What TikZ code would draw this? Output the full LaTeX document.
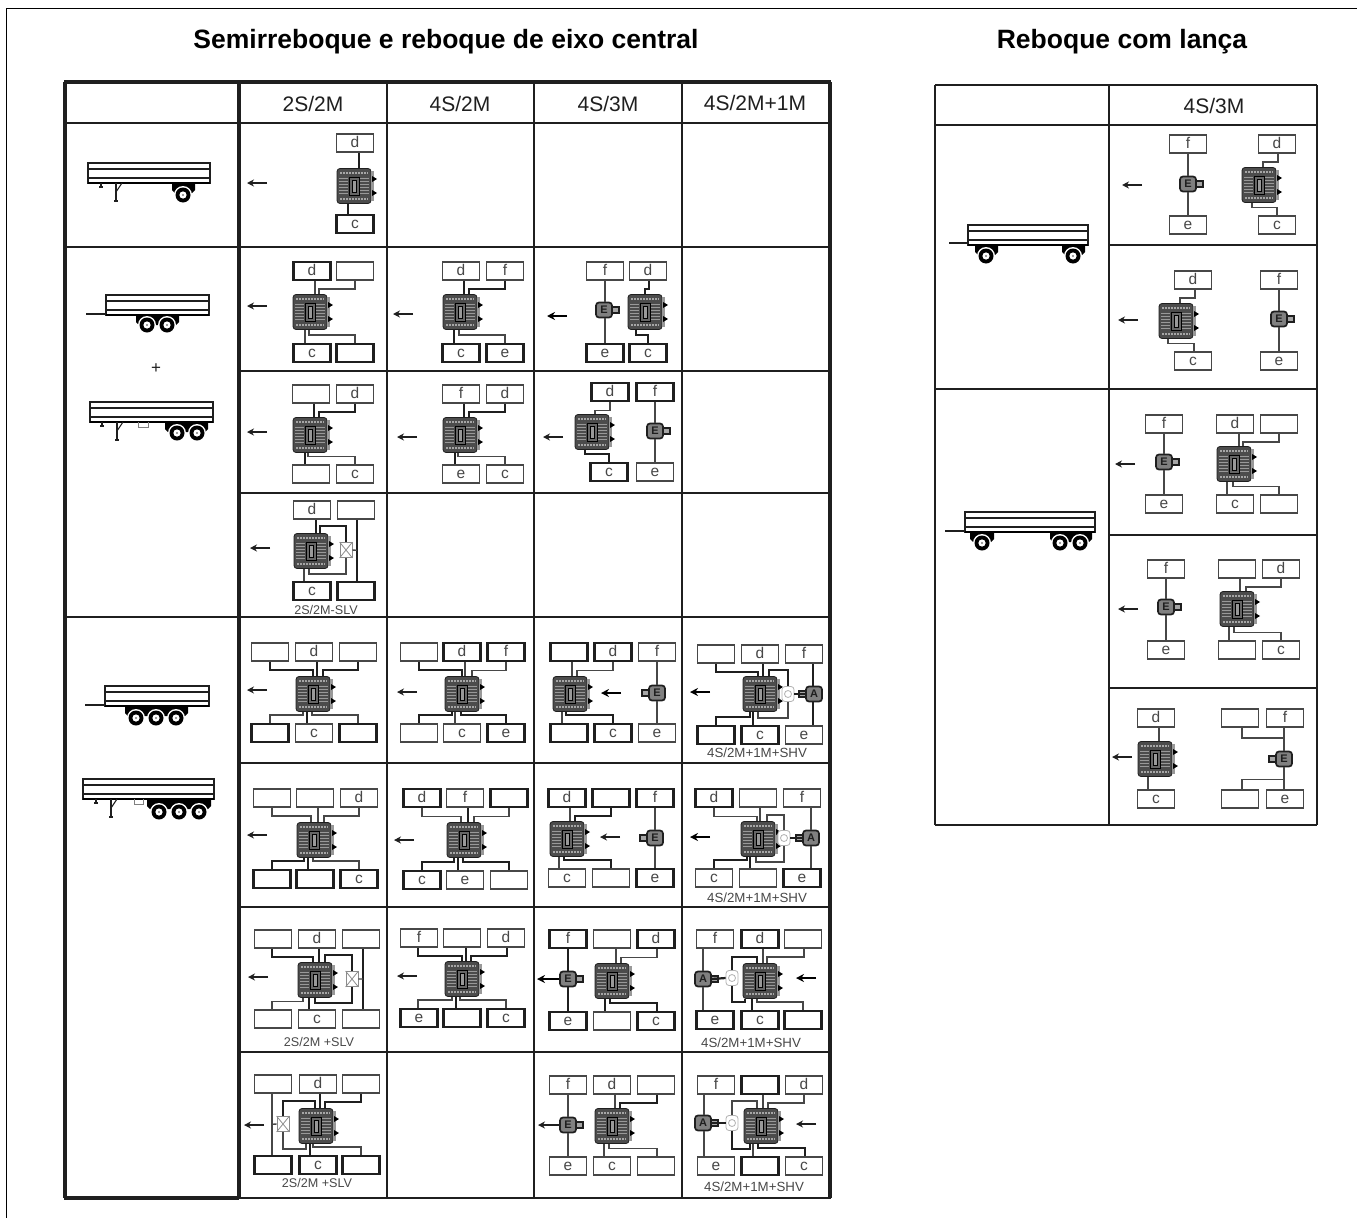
\documentclass[tikz,border=0pt]{standalone}
\usepackage{fontspec}
\setmainfont{Liberation Sans}
\usetikzlibrary{calc,arrows.meta}
\definecolor{ink}{gray}{0.12}
\definecolor{txt}{gray}{0.28}
\tikzset{
  x=1pt,y=-1pt,
  grid/.style={draw=ink,line width=2.4pt},
  gridth/.style={draw=ink,line width=3.2pt},
  bx/.style={draw=txt,line width=1.6pt,fill=white,minimum width=37pt,minimum height=18pt,inner sep=0pt,text=txt,font=\fontsize{15.5}{15}\selectfont,text height=8pt,text depth=0pt},
  bxt/.style={bx,draw=ink,line width=2.4pt},
  wire/.style={draw=txt,line width=1.4pt},
  wth/.style={draw=ink,line width=2.2pt},
  ecubody/.style={draw=ink,fill=black!70,line width=.8pt,rounded corners=3pt,minimum width=34pt,minimum height=35pt,inner sep=0pt},
  unitbody/.style={draw=ink,fill=black!50,line width=1.7pt,rounded corners=3pt,minimum width=16pt,minimum height=15pt,inner sep=0pt,font=\fontsize{11}{11}\bfseries\selectfont,text=ink},
  valvebody/.style={draw=black!45,fill=white,line width=.8pt,minimum width=12pt,minimum height=15pt,inner sep=0pt},
  arrowln/.style={draw=ink,line width=1.5pt,-{Stealth[length=7pt,width=7pt]}},
  arrowth/.style={draw=black,line width=2.3pt,-{Stealth[length=8pt,width=8pt]}},
  hdr/.style={font=\fontsize{21}{21}\selectfont,text=ink,inner sep=0pt},
  ttl/.style={font=\fontsize{26.5}{26.5}\bfseries\selectfont,text=black,inner sep=0pt},
  sublab/.style={font=\fontsize{12.6}{13}\selectfont,text=txt,inner sep=0pt},
  deckln/.style={draw=ink,line width=1.6pt},
}
\newcommand\Bx[5][bx]{\node[#1] (#2) at (#3,#4) {#5};}
\newcommand\Ecu[3]{%
  \node[ecubody] (#1) at (#2,#3) {};
  \begin{scope}[shift={(#2,#3)}]
    \fill[black!40] (17,-15) rectangle (19.5,15);
    \foreach \yy in {-8,-5,-2,1,4,7}{\draw[black!40,line width=.6pt] (-15,\yy) -- (-6,\yy) (6,\yy) -- (15,\yy);}
    \draw[black!35,line width=1.4pt,dash pattern=on 1.5pt off 1.5pt] (-14,-13) -- (14,-13) (-14,13) -- (14,13);
    \draw[draw=black,fill=black!60,line width=.8pt] (-5,-9) rectangle (5,9);
    \draw[draw=black,fill=black!40,line width=.6pt] (-2,-6) rectangle (2,6);
    \fill[black] (18,-10) -- (23,-7) -- (18,-4) -- cycle;
    \fill[black] (18,4) -- (23,7) -- (18,10) -- cycle;
  \end{scope}}
% name x y label direction(+1 right, -1 left)
\newcommand\Unit[5]{%
  \begin{scope}[shift={(#2,#3)}]
    \draw[draw=ink,fill=black!35,line width=1.4pt] ({#5*8},-3) rectangle ({#5*15},3);
  \end{scope}
  \node[unitbody] (#1) at (#2,#3) {#4};}
\newcommand\ValveX[3]{%
  \node[valvebody] (#1) at (#2,#3) {};
  \draw[black!45,line width=.8pt] (#1.north west) -- (#1.south east) (#1.south west) -- (#1.north east);}
\newcommand\Gear[3]{%
  \node[valvebody,rounded corners=3pt,draw=black!30] (#1) at (#2,#3) {};
  \draw[black!30,line width=.8pt] (#2,#3) circle[radius=3.5];}
\newcommand\Wt[5][wire]{\draw[#1] ($(#2.south)+(#3,0)$) -- ++(0,8) -| ($(#4.north)+(#5,0)$);}
\newcommand\Wb[5][wire]{\draw[#1] ($(#2.north)+(#3,0)$) -- ++(0,-8) -| ($(#4.south)+(#5,0)$);}
\newcommand\Wv[4][wire]{\draw[#1] ($(#2.south)+(#3,0)$) coordinate (wtmp) -- (wtmp |- #4.north);}
\newcommand\Wu[4][wire]{\draw[#1] ($(#2.north)+(#3,0)$) coordinate (wtmp) -- (wtmp |- #4.south);}
\newcommand\Vt[5][wire]{\draw[#1] ($(#2.north)+(#3,0)$) -- ++(0,-#4) -| (#5.north);}
\newcommand\Vb[5][wire]{\draw[#1] ($(#2.south)+(#3,0)$) -- ++(0,#4) -| (#5.south);}
\newcommand\myarr[3][arrowln]{\coordinate (ar1) at ({#2+10},#3); \coordinate (ar2) at ({#2-10},#3); \draw[#1] (ar1) -- (ar2);}
% trailers
\newcommand\Deck[3]{%
  \draw[deckln,fill=white] (#1,#3) rectangle (#2,{#3+20});
  \draw[deckln] (#1,{#3+6}) -- (#2,{#3+6}) (#1,{#3+15}) -- (#2,{#3+15});
  \draw[draw=black,line width=2.2pt] (#1,{#3+20}) -- (#2,{#3+20});}
\newcommand\Fender[3]{\fill[black] (#1,#3) -- (#2,#3) -- (#2,{#3+7}) -- ({#2-3},{#3+10}) -- ({#1+3},{#3+10}) -- (#1,{#3+7}) -- cycle;}
\newcommand\Wheel[2]{%
  \fill[white] (#1,#2) circle[radius=9];
  \fill[black] (#1,#2) circle[radius=7.5];
  \fill[white] (#1,#2) circle[radius=3.6];
  \fill[black!50] (#1,#2) circle[radius=1.2];}
\newcommand\Leg[2]{%
  \draw[draw=ink,line width=1.6pt] (#1,#2) -- (#1,{#2+18}) ({#1-2},{#2+18}) -- ({#1+2},{#2+18});
  \draw[draw=ink,line width=1.1pt] (#1,{#2+9}) -- ({#1+6},#2);
  \draw[draw=ink,line width=1.4pt] ({#1-15},#2) -- ({#1-15},{#2+4});
  \fill[ink] ({#1-17},{#2+3}) rectangle ({#1-13},{#2+5});}
\newcommand\Stow[3]{\draw[draw=black!50,line width=1pt] (#1,#3) -- (#1,{#3+5}) -- (#2,{#3+5}) -- (#2,#3);}
\begin{document}
\begin{tikzpicture}
\useasboundingbox (0,0) rectangle (1357,1218);
\draw[black,line width=1pt] (1357,8) -- (6,8) -- (6,1218);
% titles
\node[ttl] (t1) at (446,42) {Semirreboque e reboque de eixo central};
\node[ttl] (t2) at (1122,42) {Reboque com lança};
% main table grid
\foreach \yy in {123,247,617}{\draw[grid] (65,\yy) -- (830,\yy);}
\foreach \yy in {371,493,763,907,1052}{\draw[grid] (239,\yy) -- (830,\yy);}
\foreach \xx in {387,534,682}{\draw[grid] (\xx,82) -- (\xx,1198);}
\draw[gridth] (239,82) -- (239,1198);
\draw[gridth] (830,82) -- (830,1198);
\draw[gridth] (65,82) -- (65,1198);
\draw[gridth] (64,82) -- (831,82);
\draw[grid] (239,1198) -- (831,1198);
\draw[draw=ink,line width=3.5pt] (64,1198) -- (239,1198);
\node[hdr] (h1) at (313,104) {2S/2M};
\node[hdr] (h2) at (460,104) {4S/2M};
\node[hdr] (h3) at (608,104) {4S/3M};
\node[hdr] (h4) at (755,103) {4S/2M+1M};
% right table grid
\foreach \xx in {935,1109,1317}{\draw[grid] (\xx,85) -- (\xx,825);}
\foreach \yy in {85,125,389,825}{\draw[grid] (935,\yy) -- (1317,\yy);}
\foreach \yy in {245,535,688}{\draw[grid] (1109,\yy) -- (1317,\yy);}
\node[hdr] (h5) at (1214,106) {4S/3M};
% trailers
\Deck{88}{210}{163}\Leg{116}{183}\Fender{172}{195}{183}\Wheel{183}{195}
\Deck{106}{209}{295}\draw[deckln] (86,314) -- (106,314);\Fender{136}{179}{315}\Wheel{147}{325}\Wheel{167}{325}
\node[inner sep=0pt,text=ink,font=\fontsize{17}{17}\selectfont] (plus) at (156,369) {+};
\Deck{90}{213}{402}\Leg{117}{422}\Stow{138}{148}{422}\Fender{165}{208}{422}\Wheel{177}{433}\Wheel{197}{433}
\Deck{105}{209}{686}\draw[deckln] (85,705) -- (105,705);\Fender{125}{188}{706}\Wheel{136}{718}\Wheel{156}{718}\Wheel{176}{718}
\Deck{83}{214}{779}\Leg{111}{799}\Stow{134}{143}{799}\Fender{147}{211}{799}\Wheel{159}{812}\Wheel{179}{812}\Wheel{199}{812}
\Deck{968}{1088}{225}\draw[deckln] (949,243) -- (968,243);\Fender{975}{998}{245}\Fender{1062}{1085}{245}\Wheel{986}{256}\Wheel{1073}{256}
\Deck{965}{1095}{512}\draw[deckln] (945,531) -- (965,531);\Fender{970}{994}{532}\Fender{1050}{1092}{532}\Wheel{982}{543}\Wheel{1060}{543}\Wheel{1080}{543}
% ---- row 1
\begin{scope}[name prefix=a-]
\Bx{d}{355}{143}{d}\Bx[bxt]{c}{355}{224}{c}\Ecu{m}{354}{186}
\Wv[wth]{d}{4}{m}\Wu[wth]{c}{-7}{m}\myarr{257}{183}
\end{scope}
% ---- row 2
\begin{scope}[name prefix=b-]
\Bx[bxt]{d}{312}{271}{d}\Bx{r}{355}{271}{}\Bx[bxt]{c}{312}{353}{c}\Bx[bxt]{s}{355}{353}{}\Ecu{m}{310}{312}
\Wv{d}{3}{m}\Wt{r}{0}{m}{9}\Wu{c}{-7}{m}\Wb{s}{0}{m}{-1}\myarr{257}{306}
\end{scope}
\begin{scope}[name prefix=c-]
\Bx{d}{461}{271}{d}\Bx{f}{505}{271}{f}\Bx[bxt]{c}{461}{353}{c}\Bx[bxt]{e}{505}{353}{e}\Ecu{m}{460}{312}
\Wv[wth]{d}{3}{m}\Wt[wth]{f}{0}{m}{9}\Wu[wth]{c}{-7}{m}\Wb{e}{0}{m}{-1}\myarr{403}{314}
\end{scope}
\begin{scope}[name prefix=d-]
\Bx{f}{605}{271}{f}\Bx{d}{648}{271}{d}\Bx[bxt]{e}{605}{353}{e}\Bx[bxt]{c}{648}{353}{c}\Ecu{m}{645}{312}\Unit{u}{604}{310}{E}{1}
\Wv{f}{0}{u}\Wu{e}{0}{u}\Wt[wth]{d}{1}{m}{0}\Wb[wth]{c}{0}{m}{-9}\myarr[arrowth]{557}{316}
\end{scope}
% ---- row 3
\begin{scope}[name prefix=e-]
\Bx{p}{311}{394}{}\Bx{d}{355}{394}{d}\Bx{q}{311}{474}{}\Bx{c}{355}{474}{c}\Ecu{m}{310}{435}
\Wv[wth]{p}{3}{m}\Wt[wth]{d}{0}{m}{9}\Wu[wth]{q}{-6}{m}\Wb{c}{0}{m}{-2}\myarr{257}{432}
\end{scope}
\begin{scope}[name prefix=f-]
\Bx{f}{461}{394}{f}\Bx{d}{505}{394}{d}\Bx{e}{461}{474}{e}\Bx{c}{505}{474}{c}\Ecu{m}{460}{435}
\Wv[wth]{f}{3}{m}\Wt[wth]{d}{0}{m}{9}\Wu[wth]{e}{-6}{m}\Wb{c}{0}{m}{-2}\myarr{407}{437}
\end{scope}
\begin{scope}[name prefix=g-]
\Bx[bxt]{d}{610}{392}{d}\Bx[bxt]{f}{655}{392}{f}\Bx[bxt]{c}{609}{472}{c}\Bx{e}{655}{472}{e}\Ecu{m}{592}{432}\Unit{u}{655}{431}{E}{1}
\Wv{f}{0}{u}\Wu{e}{0}{u}\Wt{d}{0}{m}{3}\Wb[wth]{c}{0}{m}{-7}\myarr{553}{437}
\end{scope}
% ---- row 4
\begin{scope}[name prefix=h-]
\Bx{d}{312}{510}{d}\Bx{r}{356}{510}{}\Bx[bxt]{c}{312}{591}{c}\Bx[bxt]{s}{356}{591}{}\Ecu{m}{311}{551}\ValveX{v}{346}{550}
\Wv[wth]{d}{4}{m}\Wu{c}{-8}{m}\Vt[wth]{m}{9}{7}{v}\Vb{m}{-2}{5}{v}
\draw[wth] ($(r.south)+(1,0)$) -- ($(s.north)+(1,0)$);
\coordinate (j) at ($(r.south)!0.5!(s.north)+(1,0)$);\draw[wire] (v.east) -- (j);
\myarr{260}{548}\node[sublab] (l) at (326,610) {2S/2M-SLV};
\end{scope}
% ---- row 5
\begin{scope}[name prefix=i-]
\Bx{a}{270}{652}{}\Bx{b}{314}{652}{d}\Bx{x}{358}{652}{}\Bx[bxt]{p}{270}{733}{}\Bx{q}{314}{733}{c}\Bx[bxt]{r}{358}{733}{}\Ecu{m}{313}{694}
\Wt[wth]{a}{0}{m}{0}\Wv[wth]{b}{3}{m}\Wt[wth]{x}{0}{m}{10}\Wb{p}{0}{m}{-10}\Wu[wth]{q}{-7}{m}\Wb{r}{0}{m}{-1}\myarr{257}{690}
\end{scope}
\begin{scope}[name prefix=j-]
\Bx{a}{419}{652}{}\Bx[bxt]{b}{462}{652}{d}\Bx[bxt]{x}{506}{652}{f}\Bx{p}{419}{733}{}\Bx{q}{462}{733}{c}\Bx[bxt]{r}{506}{733}{e}\Ecu{m}{462}{694}
\Wt[wth]{a}{0}{m}{0}\Wv{b}{3}{m}\Wt{x}{0}{m}{10}\Wb[wth]{p}{0}{m}{-10}\Wu{q}{-7}{m}\Wb[wth]{r}{0}{m}{-1}\myarr{407}{692}
\end{scope}
\begin{scope}[name prefix=k-]
\Bx[bxt]{a}{569}{652}{}\Bx[bxt]{b}{613}{652}{d}\Bx{x}{657}{652}{f}\Bx[bxt]{p}{569}{733}{}\Bx[bxt]{q}{613}{733}{c}\Bx{r}{657}{733}{e}\Ecu{m}{570}{694}\Unit{u}{657}{693}{E}{-1}
\Wv{a}{3}{m}\Wt{b}{0}{m}{7}\Wu{p}{-7}{m}\Wb[wth]{q}{0}{m}{-4}\Wv{x}{0}{u}\Wu{r}{0}{u}\myarr[arrowth]{611}{693}
\end{scope}
\begin{scope}[name prefix=l-]
\Bx{a}{716}{654}{}\Bx{b}{760}{654}{d}\Bx{x}{804}{654}{f}\Bx[bxt]{p}{716}{735}{}\Bx[bxt]{q}{760}{735}{c}\Bx{r}{804}{735}{e}\Ecu{m}{760}{694}\Gear{v}{788}{694}\Unit{u}{814}{694}{A}{-1}
\Wt[wth]{a}{0}{m}{-2}\Wv[wth]{b}{3}{m}\Vt[wth]{m}{9}{6}{v}\Wb[wth]{p}{0}{m}{-10}\Wu[wth]{q}{-7}{m}\Vb{m}{-2}{6}{v}\Wv[wth]{x}{9}{u}\Wu[wth]{r}{9}{u}\draw[wth] (v.east) -- (u.west);\myarr[arrowth]{700}{692}\node[sublab,font=\fontsize{13.3}{13}\selectfont] (n) at (757,753) {4S/2M+1M+SHV};
\end{scope}
% ---- row 6
\begin{scope}[name prefix=o-]
\Bx{a}{272}{798}{}\Bx{b}{315}{798}{}\Bx{x}{359}{798}{d}\Bx[bxt]{p}{272}{879}{}\Bx[bxt]{q}{315}{879}{}\Bx[bxt]{r}{359}{879}{c}\Ecu{m}{314}{840}
\Wt{a}{0}{m}{-3}\Wv{b}{3}{m}\Wt{x}{0}{m}{10}\Wb[wth]{p}{0}{m}{-10}\Wu[wth]{q}{-7}{m}\Wb{r}{0}{m}{-1}\myarr{257}{835}
\end{scope}
\begin{scope}[name prefix=s-]
\Bx[bxt]{a}{422}{798}{d}\Bx{b}{465}{798}{f}\Bx[bxt]{x}{509}{798}{}\Bx[bxt]{p}{422}{880}{c}\Bx{q}{465}{880}{e}\Bx{r}{509}{880}{}\Ecu{m}{464}{840}
\Wt{a}{0}{m}{-3}\Wv[wth]{b}{3}{m}\Wt{x}{0}{m}{10}\Wb[wth]{p}{0}{m}{-10}\Wu[wth]{q}{-7}{m}\Wb[wth]{r}{0}{m}{-1}\myarr{404}{840}
\end{scope}
\begin{scope}[name prefix=u-]
\Bx[bxt]{a}{567}{798}{d}\Bx[bxt]{b}{611}{798}{}\Bx[bxt]{x}{655}{798}{f}\Bx{p}{567}{878}{c}\Bx{q}{611}{878}{}\Bx[bxt]{r}{655}{878}{e}\Ecu{m}{567}{839}\Unit{w}{655}{838}{E}{-1}
\Wv{a}{3}{m}\Wt[wth]{b}{0}{m}{8}\Wu{p}{-8}{m}\Wb[wth]{q}{0}{m}{-3}\Wv{x}{0}{w}\Wu{r}{0}{w}\myarr{610}{837}
\end{scope}
\begin{scope}[name prefix=w-]
\Bx[bxt]{a}{714}{798}{d}\Bx{b}{758}{798}{}\Bx{x}{802}{798}{f}\Bx{p}{714}{878}{c}\Bx{q}{758}{878}{}\Bx[bxt]{r}{802}{878}{e}\Ecu{m}{758}{839}\Gear{v}{784}{838}\Unit{u}{811}{838}{A}{-1}
\Wt{a}{0}{m}{-1}\Wv{b}{2}{m}\Vt{m}{9}{6}{v}\Wb[wth]{p}{0}{m}{-11}\Wu[wth]{q}{-8}{m}\Vb{m}{-2}{5}{v}\Wv{x}{9}{u}\Wu{r}{9}{u}\draw[wth] (v.east) -- (u.west);\myarr[arrowth]{700}{837}\node[sublab,font=\fontsize{13.3}{13}\selectfont] (n) at (757,898) {4S/2M+1M+SHV};
\end{scope}
% ---- row 7
\begin{scope}[name prefix=m1-]
\Bx{a}{273}{939}{}\Bx{b}{317}{939}{d}\Bx{x}{361}{939}{}\Bx{p}{273}{1019}{}\Bx{q}{317}{1019}{c}\Bx{r}{361}{1019}{}\Ecu{m}{315}{980}\ValveX{v}{352}{979}
\Wt[wth]{a}{-1}{m}{-2}\Wv[wth]{b}{2}{m}\Vt[wth]{m}{10}{7}{v}\Wb{p}{-1}{m}{-12}\Wu[wth]{q}{-8}{m}\Vb[wth]{m}{0}{5}{v}
\draw[wth] ($(x.south)+(2,0)$) -- ($(r.north)+(2,0)$);\coordinate (j) at ($(x.south)!0.5!(r.north)+(2,0)$);\draw[wire] (v.east) -- (j);
\myarr{258}{977}\node[sublab] (l) at (319,1042) {2S/2M +SLV};
\end{scope}
\begin{scope}[name prefix=m2-]
\Bx{a}{419}{938}{f}\Bx{b}{462}{938}{}\Bx{x}{506}{938}{d}\Bx[bxt]{p}{419}{1018}{e}\Bx[bxt]{q}{462}{1018}{}\Bx[bxt]{r}{506}{1018}{c}\Ecu{m}{462}{979}
\Wt[wth]{a}{-1}{m}{0}\Wv[wth]{b}{4}{m}\Wt[wth]{x}{1}{m}{9}\Wb{p}{-1}{m}{-10}\Wu[wth]{q}{-6}{m}\Wb{r}{0}{m}{-2}\myarr{407}{976}
\end{scope}
\begin{scope}[name prefix=m3-]
\Bx[bxt]{f}{568}{939}{f}\Bx{b}{612}{939}{}\Bx[bxt]{d}{656}{939}{d}\Bx[bxt]{e}{568}{1021}{e}\Bx{q}{612}{1021}{}\Bx[bxt]{c}{656}{1021}{c}\Ecu{m}{612}{981}\Unit{u}{568}{979}{E}{1}
\Wv[wth]{f}{0}{u}\Wu[wth]{e}{0}{u}\Wv{b}{4}{m}\Wt{d}{1}{m}{9}\Wu[wth]{q}{-7}{m}\Wb[wth]{c}{1}{m}{-2}
\coordinate (tip) at (537,979);\draw[arrowth] (u.west) -- (tip);
\end{scope}
\begin{scope}[name prefix=m4-]
\Bx{f}{715}{939}{f}\Bx[bxt]{d}{760}{939}{d}\Bx{x}{803}{939}{}\Bx[bxt]{e}{715}{1020}{e}\Bx[bxt]{c}{760}{1020}{c}\Bx[bxt]{r}{803}{1020}{}\Ecu{m}{760}{981}\Gear{v}{732}{978}\Unit{u}{703}{979}{A}{1}
\Wv{f}{-12}{u}\Wu{e}{-12}{u}\Wv{d}{3}{m}\Vt[wth]{m}{-3}{6}{v}\Wt{x}{1}{m}{7}\Wu[wth]{c}{-8}{m}\Vb[wth]{m}{-15}{3}{v}\Wb{r}{0}{m}{-3}\draw[wth] (v.west) -- (u.east);\myarr[arrowth]{806}{978}\node[sublab,font=\fontsize{13.3}{13}\selectfont] (n) at (751,1043) {4S/2M+1M+SHV};
\end{scope}
% ---- row 8
\begin{scope}[name prefix=n1-]
\Bx{a}{273}{1084}{}\Bx{b}{318}{1084}{d}\Bx{x}{361}{1084}{}\Bx[bxt]{p}{273}{1165}{}\Bx[bxt]{q}{318}{1165}{c}\Bx[bxt]{r}{361}{1165}{}\Ecu{m}{316}{1126}\ValveX{v}{283}{1124}
\Wv[wth]{b}{2}{m}\Wt[wth]{x}{0}{m}{9}\Vt[wth]{m}{-1}{7}{v}\Wu[wth]{q}{-8}{m}\Vb{m}{-10}{5}{v}\Wb{r}{0}{m}{-3}
\draw[wire] ($(a.south)+(-1,0)$) -- ($(p.north)+(-1,0)$);\coordinate (j) at ($(a.south)!0.5!(p.north)+(-1,0)$);\draw[wire] (v.west) -- (j);
\myarr{254}{1125}\node[sublab] (l) at (317,1183) {2S/2M +SLV};
\end{scope}
\begin{scope}[name prefix=n3-]
\Bx{f}{568}{1085}{f}\Bx{d}{612}{1085}{d}\Bx{r}{656}{1085}{}\Bx{e}{568}{1166}{e}\Bx{c}{612}{1166}{c}\Bx{s}{656}{1166}{}\Ecu{m}{612}{1126}\Unit{u}{568}{1125}{E}{1}
\Wv{f}{0}{u}\Wu{e}{0}{u}\Wv{d}{3}{m}\Wt[wth]{r}{1}{m}{8}\Wu{c}{-8}{m}\Wb{s}{1}{m}{-3}
\coordinate (tip) at (538,1125);\draw[arrowln] (u.west) -- (tip);
\end{scope}
\begin{scope}[name prefix=n4-]
\Bx{f}{716}{1085}{f}\Bx[bxt]{b}{760}{1085}{}\Bx{d}{804}{1085}{d}\Bx{e}{716}{1166}{e}\Bx[bxt]{c}{760}{1166}{}\Bx{r}{804}{1166}{c}\Ecu{m}{761}{1126}\Gear{v}{732}{1123}\Unit{u}{703}{1123}{A}{1}
\Wv{f}{-12}{u}\Wu{e}{-12}{u}\Wv{b}{3}{m}\Vt{m}{-4}{7}{v}\Wt{d}{0}{m}{7}\Wu{c}{-7}{m}\Vb[wth]{m}{-11}{5}{v}\Wb[wth]{r}{1}{m}{-3}\draw[wth] (v.west) -- (u.east);\myarr{806}{1124}\node[sublab,font=\fontsize{13.3}{13}\selectfont] (n) at (754,1187) {4S/2M+1M+SHV};
\end{scope}
% ---- right table
\begin{scope}[name prefix=x1-]
\Bx{f}{1188}{144}{f}\Bx{d}{1277}{144}{d}\Bx{e}{1188}{225}{e}\Bx{c}{1277}{225}{c}\Ecu{m}{1259}{185}\Unit{u}{1188}{184}{E}{1}
\Wv{f}{0}{u}\Wu{e}{0}{u}\Wt{d}{1}{m}{4}\Wb{c}{0}{m}{-7}\myarr{1132}{185}
\end{scope}
\begin{scope}[name prefix=x2-]
\Bx{d}{1193}{280}{d}\Bx{f}{1279}{280}{f}\Bx{c}{1193}{361}{c}\Bx{e}{1279}{361}{e}\Ecu{m}{1176}{321}\Unit{u}{1279}{319}{E}{1}
\Wv{f}{0}{u}\Wu{e}{0}{u}\Wt{d}{2}{m}{4}\Wb{c}{1}{m}{-8}\myarr{1128}{320}
\end{scope}
\begin{scope}[name prefix=x3-]
\Bx{f}{1164}{424}{f}\Bx{d}{1235}{424}{d}\Bx{r}{1279}{424}{}\Bx{e}{1164}{504}{e}\Bx{c}{1235}{504}{c}\Bx{s}{1279}{504}{}\Ecu{m}{1234}{464}\Unit{u}{1164}{462}{E}{1}
\Wv{f}{0}{u}\Wu{e}{0}{u}\Wv{d}{4}{m}\Wt{r}{0}{m}{9}\Wu{c}{-8}{m}\Wb{s}{0}{m}{-1}\myarr{1125}{464}
\end{scope}
\begin{scope}[name prefix=x4-]
\Bx{f}{1166}{569}{f}\Bx{b}{1237}{569}{}\Bx{d}{1281}{569}{d}\Bx{e}{1166}{650}{e}\Bx{q}{1237}{650}{}\Bx{c}{1281}{650}{c}\Ecu{m}{1237}{609}\Unit{u}{1166}{607}{E}{1}
\Wv{f}{0}{u}\Wu{e}{0}{u}\Wv{b}{3}{m}\Wt{d}{0}{m}{9}\Wu{q}{-8}{m}\Wb{c}{0}{m}{-3}\myarr{1128}{609}
\end{scope}
\begin{scope}[name prefix=x5-]
\Bx{d}{1156}{718}{d}\Bx{r}{1240}{718}{}\Bx{f}{1285}{718}{f}\Bx{c}{1156}{799}{c}\Bx{s}{1240}{799}{}\Bx{e}{1285}{799}{e}\Ecu{m}{1155}{759}\Unit{u}{1284}{759}{E}{-1}
\Wv{d}{3}{m}\Wu{c}{-8}{m}\Wv{f}{-1}{u}\Wu{e}{-1}{u}
\draw[wire] ($(r.south)+(2,0)$) -- ++(0,10) -| (u.north);
\draw[wire] ($(s.north)+(2,0)$) -- ++(0,-10) -| (u.south);
\myarr{1122}{757}
\end{scope}
\end{tikzpicture}
\end{document}
